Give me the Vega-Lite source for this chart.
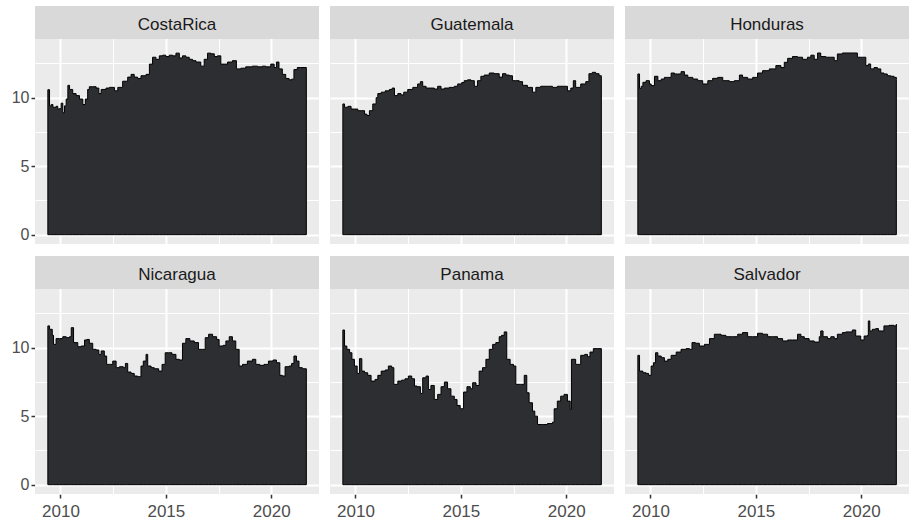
{
  "$schema": "https://vega.github.io/schema/vega-lite/v6.json",
  "padding": {"left": 5, "top": 6, "right": 0, "bottom": 0},
  "background": "white",
  "config": {
    "font": "Liberation Sans",
    "view": {"fill": "#ebebeb", "stroke": null},
    "header": {"labels": false, "title": null, "labelFontSize": 0, "labelPadding": 0}
  },
  "data": {"values": [
    {"c": "CostaRica",
     "t": [2009.40,2009.48,2009.56,2009.64,2009.79,2009.87,2009.95,2010.03,2010.11,2010.19,2010.27,2010.35,2010.43,2010.58,2010.74,2010.90,2011.06,2011.18,2011.29,2011.37,2011.53,2011.69,2011.82,2011.93,2012.16,2012.32,2012.56,2012.72,2012.95,2013.19,2013.35,2013.50,2013.66,2013.82,2014.06,2014.22,2014.37,2014.53,2014.69,2014.85,2015.00,2015.16,2015.32,2015.48,2015.64,2015.79,2015.95,2016.11,2016.27,2016.43,2016.66,2016.82,2016.98,2017.14,2017.30,2017.45,2017.61,2017.77,2017.93,2018.16,2018.35,2018.56,2018.79,2019.11,2019.35,2019.58,2019.74,2019.98,2020.14,2020.25,2020.37,2020.53,2020.69,2020.85,2020.97,2021.08,2021.24,2021.40,2021.67],
     "v": [10.58,9.4,9.5,9.3,9.37,9.17,9.2,9.6,8.9,9.4,9.9,10.9,10.6,10.3,10.15,9.9,9.5,9.9,10.6,10.8,10.8,10.7,10.3,10.6,10.7,10.75,10.5,10.75,11.2,11.5,11.7,11.5,11.4,11.6,11.7,12.45,12.95,12.8,13.05,13.1,13.0,13.1,13.05,13.25,12.9,13.05,12.95,12.8,12.7,12.6,12.3,12.8,13.25,13.2,13.0,13.05,12.45,12.45,12.6,12.7,12.1,12.15,12.25,12.3,12.25,12.3,12.25,12.45,12.2,12.6,12.1,11.7,11.4,11.3,11.35,12.05,12.2,12.2,12.15]},
    {"c": "Guatemala",
     "t": [2009.40,2009.48,2009.64,2009.79,2009.95,2010.11,2010.27,2010.43,2010.54,2010.66,2010.82,2010.98,2011.06,2011.22,2011.41,2011.61,2011.74,2011.85,2012.01,2012.16,2012.29,2012.48,2012.72,2012.95,2013.08,2013.19,2013.35,2013.58,2013.74,2013.90,2014.06,2014.22,2014.45,2014.69,2014.85,2015.04,2015.16,2015.32,2015.48,2015.64,2015.79,2015.95,2016.11,2016.35,2016.58,2016.82,2016.98,2017.14,2017.30,2017.45,2017.61,2017.77,2017.93,2018.16,2018.40,2018.56,2018.79,2019.11,2019.35,2019.58,2019.90,2020.06,2020.22,2020.34,2020.45,2020.69,2020.93,2021.08,2021.24,2021.40,2021.56,2021.67],
     "v": [9.54,9.3,9.37,9.17,9.17,9.05,9.05,8.8,8.7,9.05,9.54,10.0,10.3,10.4,10.5,10.6,10.7,10.15,10.3,10.2,10.4,10.6,10.75,11.0,11.17,10.83,10.7,10.7,10.63,10.83,10.63,10.7,10.75,10.83,11.0,11.1,11.24,11.3,11.24,10.83,11.24,11.56,11.65,11.8,11.75,11.5,11.75,11.65,11.6,11.24,11.24,11.17,10.9,10.75,10.4,10.75,10.83,10.83,10.75,10.83,10.83,10.5,10.7,11.24,10.75,11.0,11.17,11.75,11.85,11.75,11.6,11.56]},
    {"c": "Honduras",
     "t": [2009.40,2009.48,2009.56,2009.64,2009.79,2009.95,2010.03,2010.19,2010.35,2010.51,2010.66,2010.82,2010.98,2011.14,2011.29,2011.45,2011.61,2011.77,2012.01,2012.24,2012.48,2012.72,2012.95,2013.19,2013.43,2013.74,2013.98,2014.22,2014.37,2014.61,2014.85,2015.08,2015.32,2015.64,2015.95,2016.19,2016.35,2016.51,2016.74,2016.98,2017.22,2017.45,2017.61,2017.77,2017.93,2018.08,2018.32,2018.56,2018.72,2018.87,2019.11,2019.43,2019.66,2019.82,2020.06,2020.22,2020.34,2020.45,2020.61,2020.77,2020.93,2021.08,2021.24,2021.40,2021.56,2021.67],
     "v": [11.73,10.68,10.83,11.12,11.24,11.0,10.88,11.56,11.24,11.36,11.48,11.48,11.8,11.73,11.73,11.9,11.65,11.48,11.36,11.24,11.0,11.24,11.41,11.48,11.24,11.17,11.24,11.65,11.48,11.36,11.48,11.8,11.97,12.1,12.34,12.2,12.58,12.87,13.0,12.95,12.8,12.95,13.1,12.8,13.26,13.0,12.95,12.95,12.7,13.19,13.26,13.26,13.26,12.95,12.95,12.34,12.46,12.1,12.2,12.1,11.8,11.73,11.6,11.56,11.48,11.31]},
    {"c": "Nicaragua",
     "t": [2009.40,2009.48,2009.61,2009.67,2009.79,2009.95,2010.11,2010.27,2010.43,2010.51,2010.62,2010.82,2010.98,2011.14,2011.25,2011.37,2011.53,2011.69,2011.82,2011.93,2012.08,2012.19,2012.32,2012.48,2012.64,2012.80,2012.98,2013.08,2013.19,2013.35,2013.50,2013.66,2013.82,2013.93,2014.06,2014.14,2014.30,2014.45,2014.66,2014.82,2014.97,2015.13,2015.29,2015.48,2015.64,2015.79,2015.95,2016.14,2016.35,2016.55,2016.74,2016.87,2017.03,2017.22,2017.41,2017.53,2017.72,2017.85,2018.01,2018.16,2018.32,2018.48,2018.64,2018.87,2019.11,2019.27,2019.46,2019.66,2019.87,2020.09,2020.25,2020.41,2020.53,2020.66,2020.85,2020.97,2021.08,2021.20,2021.32,2021.48,2021.67],
     "v": [11.59,11.34,10.9,10.24,10.66,10.66,10.8,10.73,10.8,11.46,10.37,10.07,10.12,10.56,10.6,10.32,9.88,9.83,9.51,9.76,9.39,8.78,8.78,9.02,8.54,8.61,8.54,8.85,8.22,8.12,7.93,7.88,8.66,9.02,9.51,8.66,8.54,8.46,8.29,8.78,9.63,9.63,9.51,9.15,9.1,10.32,10.66,10.49,10.37,9.88,9.88,10.73,10.98,10.8,10.6,10.12,10.17,10.49,10.8,10.49,9.88,8.66,8.78,9.02,9.15,8.78,8.71,8.78,9.02,9.1,8.9,7.98,7.93,8.61,8.66,8.85,9.39,9.02,8.54,8.46,8.46]},
    {"c": "Panama",
     "t": [2009.40,2009.48,2009.59,2009.72,2009.83,2009.95,2010.08,2010.19,2010.30,2010.43,2010.58,2010.74,2010.93,2011.06,2011.22,2011.41,2011.56,2011.72,2011.82,2012.01,2012.19,2012.35,2012.51,2012.67,2012.80,2012.92,2013.08,2013.19,2013.35,2013.46,2013.58,2013.74,2013.90,2014.06,2014.22,2014.37,2014.53,2014.69,2014.82,2014.97,2015.13,2015.29,2015.45,2015.56,2015.72,2015.87,2016.03,2016.19,2016.35,2016.51,2016.66,2016.82,2016.93,2017.06,2017.18,2017.34,2017.50,2017.61,2017.82,2018.01,2018.13,2018.24,2018.40,2018.51,2018.64,2018.87,2019.11,2019.35,2019.43,2019.58,2019.74,2019.90,2020.06,2020.19,2020.25,2020.45,2020.61,2020.69,2020.88,2021.01,2021.13,2021.29,2021.48,2021.67],
     "v": [11.29,10.12,9.88,9.63,9.15,8.66,8.12,9.2,8.29,8.17,7.98,7.56,7.68,7.98,8.29,8.37,8.66,8.54,7.32,7.56,7.63,7.73,7.93,7.73,7.2,7.15,6.66,7.8,7.93,6.95,7.24,6.22,6.59,7.15,7.49,7.0,6.46,6.22,5.78,5.54,6.76,7.15,7.0,7.44,7.24,8.29,8.54,9.15,9.88,10.24,10.37,10.8,10.9,11.15,9.15,8.78,8.66,7.32,7.32,7.98,6.71,5.98,5.37,5.0,4.39,4.39,4.46,4.56,5.54,6.1,6.46,6.59,6.1,5.49,9.15,8.78,8.78,9.44,9.51,9.34,9.68,9.93,9.93,9.93]},
    {"c": "Salvador",
     "t": [2009.40,2009.48,2009.64,2009.79,2009.91,2010.03,2010.14,2010.24,2010.35,2010.51,2010.66,2010.82,2010.98,2011.22,2011.45,2011.69,2011.85,2011.97,2012.13,2012.32,2012.56,2012.80,2013.03,2013.35,2013.58,2013.90,2014.14,2014.37,2014.61,2014.85,2015.08,2015.32,2015.56,2015.79,2016.03,2016.27,2016.51,2016.74,2016.98,2017.14,2017.30,2017.53,2017.77,2018.01,2018.08,2018.19,2018.40,2018.56,2018.72,2018.87,2019.11,2019.27,2019.43,2019.58,2019.74,2019.98,2020.14,2020.30,2020.34,2020.41,2020.53,2020.69,2020.82,2020.97,2021.08,2021.32,2021.56,2021.67],
     "v": [9.44,8.29,8.17,8.12,7.98,8.66,8.9,9.63,9.39,9.27,9.02,9.15,9.44,9.68,9.88,9.93,9.88,10.37,10.32,10.12,10.24,10.66,10.98,10.9,10.8,10.8,10.98,11.1,10.8,10.8,11.05,10.98,10.8,10.8,10.66,10.49,10.56,10.56,10.98,10.8,10.66,10.49,10.41,10.8,11.22,10.8,10.66,10.8,10.66,10.98,11.1,11.15,11.15,11.29,10.85,10.56,10.85,10.9,11.95,11.22,11.34,11.39,11.22,11.22,11.59,11.63,11.59,11.71]}
  ]},
  "transform": [{"flatten": ["t", "v"]}],
  "facet": {"field": "c", "type": "nominal", "header": {"title": null, "labels": false, "labelFontSize": 0, "labelPadding": 0}},
  "columns": 3,
  "spacing": {"row": 12, "column": 11},
  "spec": {
    "width": 284,
    "height": 238,
    "layer": [
      {
        "mark": {"type": "area", "interpolate": "step-after", "fill": "#2c2e31", "stroke": "#000000", "strokeWidth": 1},
        "encoding": {
          "x": {"field": "t", "type": "quantitative",
                "scale": {"domain": [2008.79, 2022.27], "nice": false, "zero": false},
                "axis": {"title": null, "values": [2010, 2012.5, 2015, 2017.5, 2020],
                         "labelExpr": "datum.value % 5 === 0 ? format(datum.value, 'd') : ''",
                         "grid": true, "gridColor": "#ffffff",
                         "gridWidth": {"condition": {"test": "datum.value % 5 === 0", "value": 2}, "value": 1},
                         "tickOpacity": {"condition": {"test": "datum.value % 5 === 0", "value": 1}, "value": 0},
                         "domain": false, "tickColor": "#333333", "tickSize": 4, "tickWidth": 1.5,
                         "labelColor": "#4d4d4d", "labelFontSize": 17, "labelPadding": 5, "labelFlush": false}},
          "y": {"field": "v", "type": "quantitative", "stack": null,
                "scale": {"domain": [-0.68, 16.69], "nice": false, "zero": false},
                "axis": {"title": null, "values": [0, 2.5, 5, 7.5, 10, 12.5],
                         "labelExpr": "datum.value % 5 === 0 ? datum.label : ''",
                         "grid": true, "gridColor": "#ffffff",
                         "gridWidth": {"condition": {"test": "datum.value % 5 === 0", "value": 2}, "value": 1},
                         "tickOpacity": {"condition": {"test": "datum.value % 5 === 0", "value": 1}, "value": 0},
                         "domain": false, "tickColor": "#333333", "tickSize": 4, "tickWidth": 1.5,
                         "labelColor": "#4d4d4d", "labelFontSize": 16, "labelPadding": 2,
                         "minExtent": 30, "maxExtent": 30}}
        }
      },
      {
        "transform": [{"aggregate": [{"op": "count", "as": "n"}], "groupby": ["c"]}],
        "layer": [
          {"mark": {"type": "rect", "fill": "#d9d9d9"},
           "encoding": {"x": {"datum": 2008.79}, "x2": {"datum": 2022.27},
                        "y": {"datum": 14.28}, "y2": {"datum": 16.69}}},
          {"mark": {"type": "text", "fontSize": 17, "color": "#1a1a1a", "align": "center", "baseline": "middle"},
           "encoding": {"x": {"datum": 2015.53}, "y": {"datum": 15.32}, "text": {"field": "c"}}}
        ]
      }
    ]
  }
}
